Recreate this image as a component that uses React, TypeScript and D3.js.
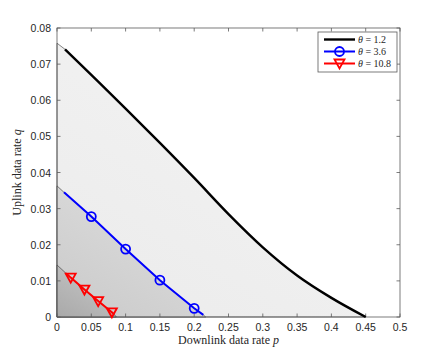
import { useEffect, useRef } from 'react';
import * as d3 from 'd3';

// theta = 1.2
const pBlack = [0.0117, 0.05, 0.1, 0.15, 0.2, 0.25, 0.3, 0.35, 0.4, 0.45];
const qBlack = [0.0741, 0.067, 0.0577, 0.0482, 0.0385, 0.0285, 0.0193, 0.0115, 0.0053, 0];
const edgeBlack = [0, 0.0758];
// theta = 3.6
const pBlue = [0.0102, 0.05, 0.1, 0.15, 0.2, 0.2133];
const qBlue = [0.0345, 0.0278, 0.0188, 0.0102, 0.0024, 0.0006];
const markBlue = [1, 2, 3, 4];
const edgeBlue = [[0, 0.0363], [0.2167, 0]];
// theta = 10.8
const pRed = [0.0131, 0.02, 0.04, 0.06, 0.08, 0.0835];
const qRed = [0.0121, 0.0109, 0.0076, 0.0044, 0.0013, 0.0007];
const markRed = [1, 2, 3, 4];
const edgeRed = [[0, 0.0144], [0.0865, 0]];

const xTicks = d3.range(0, 0.5001, 0.05);
const yTicks = d3.range(0, 0.0801, 0.01);
const legendLabels = ['1.2', '3.6', '10.8'];
const colors = ['#000000', '#0000ff', '#ff0000'];

export default function App() {
  const ref = useRef<SVGSVGElement>(null);

  useEffect(() => {
    const svg = d3.select(ref.current);
    svg.selectAll('*').remove();
    const m = { left: 57, top: 28, right: 43, bottom: 39 };
    const W = 443 - m.left - m.right;
    const H = 356 - m.top - m.bottom;
    const x = d3.scaleLinear().domain([0, 0.5]).range([0, W]);
    const y = d3.scaleLinear().domain([0, 0.08]).range([H, 0]);

    const defs = svg.append('defs');
    const grad = (id: string, a: string, b: string) => {
      const g = defs.append('linearGradient').attr('id', id)
        .attr('x1', '0').attr('y1', '1').attr('x2', '0.7').attr('y2', '0');
      g.append('stop').attr('offset', '0').attr('stop-color', a);
      g.append('stop').attr('offset', '1').attr('stop-color', b);
    };
    grad('gOuter', '#ebebeb', '#f3f3f3');
    grad('gMid', '#c9c9c9', '#dedede');
    grad('gIn', '#a9a9a9', '#c6c6c6');

    const g = svg.append('g').attr('transform', `translate(${m.left},${m.top})`);

    const line = d3.line<number[]>().x(d => x(d[0])).y(d => y(d[1]));
    const smooth = d3.line<number[]>().x(d => x(d[0])).y(d => y(d[1])).curve(d3.curveMonotoneX);
    const zipped = (ps: number[], qs: number[]) => ps.map((p, i) => [p, qs[i]]);

    // regions
    const outerPath = `M${x(0)},${y(0)}L${x(edgeBlack[0])},${y(edgeBlack[1])}L` +
      smooth(zipped(pBlack, qBlack))!.slice(1) + 'Z';
    const mid = [[0, 0], edgeBlue[0], ...zipped(pBlue, qBlue), edgeBlue[1]];
    const inner = [[0, 0], edgeRed[0], ...zipped(pRed, qRed), edgeRed[1]];
    g.append('path').attr('d', outerPath)
      .attr('fill', 'url(#gOuter)').attr('stroke', '#333').attr('stroke-width', 0.6);
    [[mid, 'gMid'], [inner, 'gIn']].forEach(([pts, id]) => {
      g.append('path').attr('d', line(pts as number[][]) + 'Z')
        .attr('fill', `url(#${id})`).attr('stroke', '#333').attr('stroke-width', 0.6);
    });

    // axes box
    g.append('rect').attr('width', W).attr('height', H)
      .attr('fill', 'none').attr('stroke', '#5a5a5a').attr('stroke-width', 0.8);
    const tk = 3.5;
    xTicks.forEach(t => {
      g.append('line').attr('x1', x(t)).attr('x2', x(t)).attr('y1', H).attr('y2', H - tk)
        .attr('stroke', '#5a5a5a').attr('stroke-width', 0.8);
      g.append('line').attr('x1', x(t)).attr('x2', x(t)).attr('y1', 0).attr('y2', tk)
        .attr('stroke', '#5a5a5a').attr('stroke-width', 0.8);
      g.append('text').attr('x', x(t)).attr('y', H + 14).attr('text-anchor', 'middle')
        .attr('font-family', 'Liberation Sans, Arial, sans-serif').attr('font-size', 10.5)
        .attr('fill', '#262626').text(d3.format('~g')(+t.toFixed(2)));
    });
    yTicks.forEach(t => {
      g.append('line').attr('x1', 0).attr('x2', tk).attr('y1', y(t)).attr('y2', y(t))
        .attr('stroke', '#5a5a5a').attr('stroke-width', 0.8);
      g.append('line').attr('x1', W).attr('x2', W - tk).attr('y1', y(t)).attr('y2', y(t))
        .attr('stroke', '#5a5a5a').attr('stroke-width', 0.8);
      g.append('text').attr('x', -6).attr('y', y(t) + 4).attr('text-anchor', 'end')
        .attr('font-family', 'Liberation Sans, Arial, sans-serif').attr('font-size', 10.5)
        .attr('fill', '#262626').text(d3.format('~g')(+t.toFixed(2)));
    });

    // curves
    const triangle = (sel: any, cx: number, cy: number) =>
      sel.append('path')
        .attr('d', `M${cx - 5},${cy - 4}L${cx + 5},${cy - 4}L${cx},${cy + 5}Z`)
        .attr('fill', 'none').attr('stroke', colors[2]).attr('stroke-width', 1.8);
    g.append('path').attr('d', smooth(zipped(pBlack, qBlack))).attr('fill', 'none')
      .attr('stroke', colors[0]).attr('stroke-width', 2.4);
    g.append('path').attr('d', line(zipped(pBlue, qBlue))).attr('fill', 'none')
      .attr('stroke', colors[1]).attr('stroke-width', 2);
    markBlue.forEach(i => g.append('circle').attr('cx', x(pBlue[i])).attr('cy', y(qBlue[i]))
      .attr('r', 4.5).attr('fill', 'none').attr('stroke', colors[1]).attr('stroke-width', 1.8));
    g.append('path').attr('d', line(zipped(pRed, qRed))).attr('fill', 'none')
      .attr('stroke', colors[2]).attr('stroke-width', 2);
    markRed.forEach(i => triangle(g, x(pRed[i]), y(qRed[i])));

    // axis labels
    const xl = svg.append('text').attr('x', m.left + W / 2).attr('y', 344).attr('text-anchor', 'middle')
      .attr('font-family', 'Liberation Serif, serif').attr('font-size', 12).attr('fill', '#262626');
    xl.append('tspan').text('Downlink data rate ');
    xl.append('tspan').attr('font-style', 'italic').text('p');
    const yl = svg.append('text').attr('transform', `translate(21,${m.top + H / 2}) rotate(-90)`)
      .attr('text-anchor', 'middle')
      .attr('font-family', 'Liberation Serif, serif').attr('font-size', 12).attr('fill', '#262626');
    yl.append('tspan').text('Uplink data rate ');
    yl.append('tspan').attr('font-style', 'italic').text('q');

    // legend
    const lg = svg.append('g').attr('transform', 'translate(318,32)');
    lg.append('rect').attr('width', 79).attr('height', 40).attr('fill', '#fff')
      .attr('stroke', '#5a5a5a').attr('stroke-width', 0.8);
    legendLabels.forEach((lab, i) => {
      const yy = 7.5 + i * 12;
      lg.append('line').attr('x1', 6).attr('x2', 37).attr('y1', yy).attr('y2', yy)
        .attr('stroke', colors[i]).attr('stroke-width', i === 0 ? 2.4 : 2);
      if (i === 1) lg.append('circle').attr('cx', 21.5).attr('cy', yy).attr('r', 4.5)
        .attr('fill', 'none').attr('stroke', colors[1]).attr('stroke-width', 1.8);
      if (i === 2) triangle(lg, 21.5, yy);
      const t = lg.append('text').attr('x', 40).attr('y', yy + 3.5)
        .attr('font-family', 'Liberation Serif, serif').attr('font-size', 10).attr('fill', '#262626');
      t.append('tspan').attr('font-style', 'italic').text('θ');
      t.append('tspan').text(` = ${lab}`);
    });
  }, []);

  return (
    <svg ref={ref} width={443} height={356}
      style={{ position: 'absolute', left: 0, top: 0, background: '#fff', display: 'block' }} />
  );
}
